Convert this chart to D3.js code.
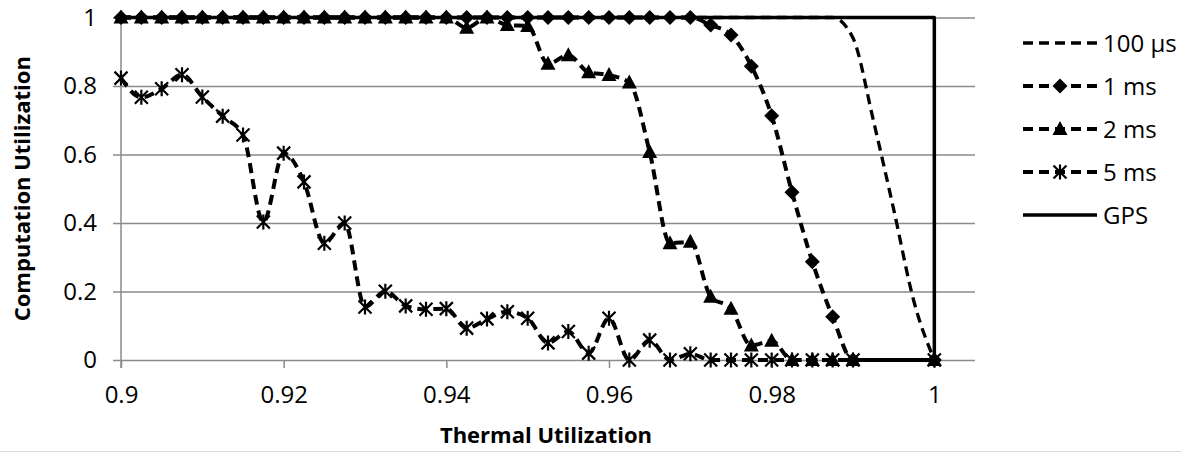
<!DOCTYPE html>
<html>
<head>
<meta charset="utf-8">
<script src="https://cdn.jsdelivr.net/npm/d3@7"></script>
<style>
  body { margin: 0; background: #fff; }
  svg { display: block; font-family: "Open Sans", sans-serif; }
</style>
</head>
<body>
<div id="chart"></div>
<script>
// thermal utilization (x) for the marker series
const thermal = [0.9, 0.9025, 0.905, 0.9075, 0.91, 0.9125, 0.915, 0.9175, 0.92, 0.9225,
  0.925, 0.9275, 0.93, 0.9325, 0.935, 0.9375, 0.94, 0.9425, 0.945, 0.9475,
  0.95, 0.9525, 0.955, 0.9575, 0.96, 0.9625, 0.965, 0.9675, 0.97, 0.9725,
  0.975, 0.9775, 0.98, 0.9825, 0.985, 0.9875, 0.99, 1.0];
// 100 us series has a few more points near the end
const thermalFine = [0.9, 0.9025, 0.905, 0.9075, 0.91, 0.9125, 0.915, 0.9175, 0.92, 0.9225,
  0.925, 0.9275, 0.93, 0.9325, 0.935, 0.9375, 0.94, 0.9425, 0.945, 0.9475,
  0.95, 0.9525, 0.955, 0.9575, 0.96, 0.9625, 0.965, 0.9675, 0.97, 0.9725,
  0.975, 0.9775, 0.98, 0.9825, 0.985, 0.9875, 0.99, 0.9925, 0.995, 0.9975, 1.0];

const us100 = [1, 1, 1, 1, 1, 1, 1, 1, 1, 1,
  1, 1, 1, 1, 1, 1, 1, 1, 1, 1,
  1, 1, 1, 1, 1, 1, 1, 1, 1, 1,
  1, 1, 1, 1, 1, 1, 0.94, 0.70, 0.44, 0.17, 0];
const ms1 = [1, 1, 1, 1, 1, 1, 1, 1, 1, 1,
  1, 1, 1, 1, 1, 1, 1, 1, 1, 1,
  1, 1, 1, 1, 1, 1, 1, 1, 1, 0.978,
  0.949, 0.858, 0.713, 0.49, 0.287, 0.126, 0, 0];
const ms2 = [1, 1, 1, 1, 1, 1, 1, 1, 1, 1,
  1, 1, 1, 1, 1, 1, 1, 0.97, 1, 0.978,
  0.975, 0.865, 0.89, 0.84, 0.832, 0.81, 0.607, 0.341, 0.345, 0.185,
  0.15, 0.042, 0.056, 0, 0, 0, 0, 0];
const ms5 = [0.823, 0.767, 0.792, 0.833, 0.768, 0.712, 0.657, 0.403, 0.604, 0.52,
  0.341, 0.40, 0.155, 0.201, 0.158, 0.148, 0.15, 0.093, 0.12, 0.141,
  0.122, 0.05, 0.083, 0.02, 0.122, 0, 0.058, 0, 0.018, 0,
  0, 0, 0, 0, 0, 0, 0, 0];
const gpsX = [0.9, 1.0, 1.0];
const gpsY = [1, 1, 0];

const xTicks = [0.9, 0.92, 0.94, 0.96, 0.98, 1];
const yTicks = [0, 0.2, 0.4, 0.6, 0.8, 1];
const names = ['100 μs', '1 ms', '2 ms', '5 ms', 'GPS'];

const W = 1187, H = 453;
const plot = {left: 121, right: 975, top: 17.5, bottom: 360};

const svg = d3.select('#chart').append('svg')
  .attr('width', W)
  .attr('height', H);

svg.append('rect').attr('width', W).attr('height', H).attr('fill', '#fff');
svg.append('line')
  .attr('x1', 0).attr('x2', 1181).attr('y1', 451.5).attr('y2', 451.5)
  .attr('stroke', '#d9d9d9').attr('stroke-width', 1);

const x = d3.scaleLinear().domain([0.9, 1.005]).range([plot.left, plot.right]);
const y = d3.scaleLinear().domain([0, 1]).range([plot.bottom, plot.top]);
const fmt = d3.format('~g');
const grey = '#8a8a8a';

// y grid + labels
const yAxis = svg.append('g')
  .attr('transform', `translate(${plot.left - 8},0)`)
  .call(d3.axisLeft(y)
    .tickValues(yTicks)
    .tickFormat(fmt)
    .tickSize(-(plot.right - plot.left + 8))
    .tickPadding(16));
yAxis.select('.domain').remove();
yAxis.selectAll('.tick line').attr('stroke', grey).attr('stroke-width', 1.5);
yAxis.selectAll('.tick text')
  .attr('fill', '#000')
  .style('font-size', '24px')
  .style('font-family', '"Open Sans", sans-serif');

// x ticks + labels
const xAxis = svg.append('g')
  .attr('transform', `translate(0,${plot.bottom})`)
  .call(d3.axisBottom(x)
    .tickValues(xTicks)
    .tickFormat(fmt)
    .tickSize(8));
xAxis.select('.domain').remove();
xAxis.selectAll('.tick line').attr('stroke', grey).attr('stroke-width', 1.5);
xAxis.selectAll('.tick text')
  .attr('y', 43)
  .attr('dy', 0)
  .attr('fill', '#000')
  .style('font-size', '24px')
  .style('font-family', '"Open Sans", sans-serif');

// vertical axis line
svg.append('line')
  .attr('x1', x(0.9)).attr('x2', x(0.9))
  .attr('y1', y(1)).attr('y2', plot.bottom + 8)
  .attr('stroke', grey).attr('stroke-width', 1.5);

// axis titles
svg.append('text')
  .attr('x', 546)
  .attr('y', 443)
  .attr('text-anchor', 'middle')
  .style('font-size', '22px')
  .style('font-weight', 'bold')
  .text('Thermal Utilization');

svg.append('text')
  .attr('transform', `translate(30,${(plot.top + plot.bottom) / 2}) rotate(-90)`)
  .attr('text-anchor', 'middle')
  .style('font-size', '22px')
  .style('font-weight', 'bold')
  .text('Computation Utilization');

// markers
const markers = {
  diamond: 'M0,-7.5L7.5,0L0,7.5L-7.5,0Z',
  triangle: 'M0,-8L7.5,6L-7.5,6Z',
  star: 'M0,-7.5V7.5M-6.5,-6.5L6.5,6.5M6.5,-6.5L-6.5,6.5'
};

const series = [
  {name: names[0], xs: thermalFine, ys: us100, marker: null, dash: '10,6', width: 3.3},
  {name: names[1], xs: thermal, ys: ms1, marker: 'diamond', dash: '10,6', width: 4},
  {name: names[2], xs: thermal, ys: ms2, marker: 'triangle', dash: '10,6', width: 4},
  {name: names[3], xs: thermal, ys: ms5, marker: 'star', dash: '10,6', width: 4},
  {name: names[4], xs: gpsX, ys: gpsY, marker: null, dash: null, width: 3.5}
];

const smooth = d3.line()
  .x(d => x(d[0]))
  .y(d => y(d[1]))
  .curve(d3.curveMonotoneX);
const straight = d3.line()
  .x(d => x(d[0]))
  .y(d => y(d[1]));

const drawMarker = (g, type, cx, cy) => {
  const p = g.append('path')
    .attr('d', markers[type])
    .attr('transform', `translate(${cx},${cy})`);
  if (type === 'star') {
    p.attr('fill', 'none').attr('stroke', '#000').attr('stroke-width', 2.2);
  } else {
    p.attr('fill', '#000');
  }
};

series.forEach(s => {
  const pts = s.xs.map((v, i) => [v, s.ys[i]]);
  const g = svg.append('g').attr('class', 'series');
  g.append('path')
    .attr('d', (s.dash ? smooth : straight)(pts))
    .attr('fill', 'none')
    .attr('stroke', '#000')
    .attr('stroke-width', s.width)
    .attr('stroke-dasharray', s.dash)
    .attr('stroke-linejoin', 'round');
  if (s.marker) {
    pts.forEach(d => drawMarker(g, s.marker, x(d[0]), y(d[1])));
  }
});

// legend
const legend = svg.append('g').attr('transform', 'translate(1023,43)');
series.forEach((s, i) => {
  const row = legend.append('g').attr('transform', `translate(0,${i * 43})`);
  row.append('line')
    .attr('x1', 0).attr('x2', 74)
    .attr('stroke', '#000')
    .attr('stroke-width', s.width)
    .attr('stroke-dasharray', s.dash);
  if (s.marker) drawMarker(row, s.marker, 37, 0);
  row.append('text')
    .attr('x', 80)
    .attr('dy', '0.36em')
    .style('font-size', '24px')
    .text(s.name);
});
</script>
</body>
</html>
